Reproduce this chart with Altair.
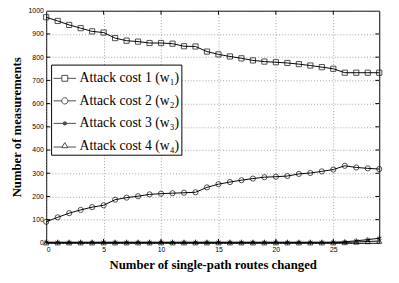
import altair as alt
import pandas as pd

# ---- data ----
x_vals = list(range(30))
w1 = [972, 956, 939, 925, 911, 906, 882, 871, 867, 861, 861, 858, 847, 846, 824,
      812, 803, 795, 786, 781, 778, 775, 770, 764, 757, 750, 733, 733, 733, 733]
w2 = [91, 110, 128, 142, 154, 162, 186, 195, 201, 209, 212, 214, 216, 218, 239,
      253, 262, 270, 277, 283, 285, 288, 297, 301, 308, 316, 332, 325, 321, 318]
w3 = [3, 3, 3, 3, 3, 3, 3, 3, 3, 3, 3, 3, 3, 3, 3,
      3, 3, 3, 3, 3, 3, 3, 3, 3, 3, 3, 5, 9, 14, 20]
w4 = [1, 1, 1, 1, 1, 1, 1, 1, 1, 1, 1, 1, 1, 1, 1,
      1, 1, 1, 1, 1, 1, 1, 1, 1, 1, 1, 2, 4, 6, 8]
series_names = ["Attack cost 1 (w\u2081)", "Attack cost 2 (w\u2082)",
                "Attack cost 3 (w\u2083)", "Attack cost 4 (w\u2084)"]
x_ticks = [0, 5, 10, 15, 20, 25]
y_ticks = [0, 100, 200, 300, 400, 500, 600, 700, 800, 900, 1000]

rows = []
for name, vals in zip(series_names, [w1, w2, w3, w4]):
    for xv, yv in zip(x_vals, vals):
        rows.append({"x": xv, "y": yv, "series": name})
df = pd.DataFrame(rows)

W, H = 340, 237

# marker shapes
asterisk = "M0,-1V1M-0.87,-0.5L0.87,0.5M-0.87,0.5L0.87,-0.5"
marker_range = ["square", "circle", asterisk, "triangle-up"]
# legend symbols: line + marker
leg_sq = "M-1,0H-0.26M0.26,0H1M-0.26,-0.26H0.26V0.26H-0.26Z"
leg_ci = "M-1,0H-0.28M0.28,0H1M0.28,0A0.28,0.28 0 1,1 -0.28,0A0.28,0.28 0 1,1 0.28,0Z"
leg_as = "M-1,0H1M0,-0.2V0.2M-0.17,-0.1L0.17,0.1M-0.17,0.1L0.17,-0.1M-0.1,-0.1H0.1V0.1H-0.1Z"
leg_tr = "M-1,0.1H-0.2M0.2,0.1H1M0,-0.3L0.27,0.16H-0.27Z"
legend_range = [leg_sq, leg_ci, leg_as, leg_tr]

xs = alt.Scale(domain=[0, 29], nice=False, zero=False)
ys = alt.Scale(domain=[0, 1000], nice=False)

X = alt.X("x:Q", scale=xs, title="Number of single-path routes changed",
          axis=alt.Axis(values=x_ticks, format="d", labelPadding=3, titlePadding=6,
                        labelOverlap=False))
Y = alt.Y("y:Q", scale=ys, title="Number of measurements",
          axis=alt.Axis(values=y_ticks, format="d", labelPadding=3, titlePadding=5,
                        labelOverlap=False))

base = alt.Chart(df)
lines = base.mark_line(color="black", strokeWidth=1).encode(
    x=X, y=Y, detail="series:N", order="x:Q")
points = base.mark_point(filled=False, color="black", strokeWidth=1, size=28).encode(
    x=X, y=Y,
    shape=alt.Shape("series:N", scale=alt.Scale(domain=series_names, range=marker_range),
                    legend=None))
leg = base.transform_filter("false").mark_point(filled=False, color="black").encode(
    x=X, y=Y,
    shape=alt.Shape("series:N", scale=alt.Scale(domain=series_names, range=legend_range),
                    legend=alt.Legend(title=None, orient="none", legendX=5, legendY=55,
                                      strokeColor="black", fillColor="white",
                                      padding=2, rowPadding=4, labelOffset=3,
                                      symbolSize=529, symbolStrokeWidth=1,
                                      symbolStrokeColor="black",
                                      symbolFillColor="white",
                                      labelFont="Liberation Serif", labelFontSize=14,
                                      labelColor="black")))

# inward tick marks (MATLAB style box)
xt = pd.DataFrame({"x": x_ticks[1:]})
yt = pd.DataFrame({"y": y_ticks[1:-1]})
tk_xb = alt.Chart(xt).mark_rule(color="black", strokeWidth=1).encode(
    x=X, y=alt.value(H - 4), y2=alt.value(H))
tk_xt = alt.Chart(xt).mark_rule(color="black", strokeWidth=1).encode(
    x=X, y=alt.value(0), y2=alt.value(4))
tk_yl = alt.Chart(yt).mark_rule(color="black", strokeWidth=1).encode(
    y=Y, x=alt.value(0), x2=alt.value(4))
tk_yr = alt.Chart(yt).mark_rule(color="black", strokeWidth=1).encode(
    y=Y, x=alt.value(W - 4), x2=alt.value(W))

chart = alt.layer(lines, tk_xb, tk_xt, tk_yl, tk_yr, points, leg).resolve_scale(
    shape="independent"
).properties(
    width=W, height=H,
    autosize=alt.AutoSizeParams(type="none"),
    padding={"left": 39, "top": 0, "right": 12, "bottom": 30},
).configure_view(
    stroke="black", strokeWidth=1
).configure_axis(
    labelFont="Liberation Sans", labelFontSize=7, labelColor="black",
    titleFont="Liberation Serif", titleFontSize=13, titleFontWeight="bold",
    titleColor="black", domain=False, ticks=False,
    grid=True, gridColor="#888888", gridDash=[1, 2], gridWidth=0.8,
)

chart.save("out.html", embed_options={"renderer": "svg", "actions": False})
